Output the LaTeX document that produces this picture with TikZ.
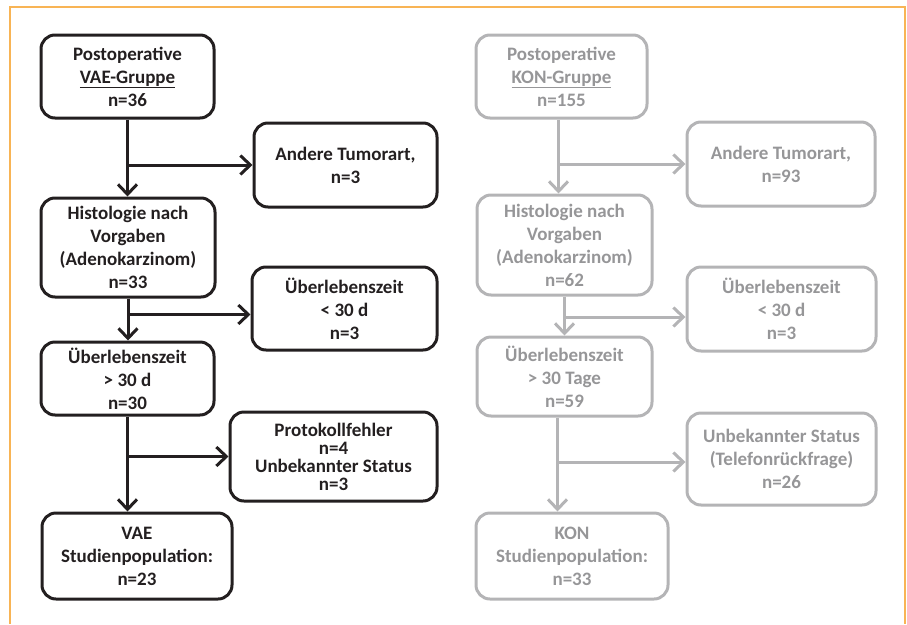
\documentclass[tikz,border=0pt]{standalone}
\usepackage{fontspec}
\setmainfont{Carlito}
\usetikzlibrary{arrows.meta}
\definecolor{vaeblack}{RGB}{35,31,32}
\definecolor{kongray}{RGB}{180,180,182}
\definecolor{kontext}{RGB}{150,150,152}
\definecolor{rahmenorange}{RGB}{248,180,85}

\tikzset{
  flowbox/.style={draw, rounded corners=14pt, line width=3pt, align=center, inner sep=0pt,
    font=\bfseries\fontsize{19}{23}\selectfont},
  vaebox/.style={flowbox, draw=vaeblack, text=vaeblack},
  konbox/.style={flowbox, draw=kongray, text=kontext},
  vaepfeil/.style={vaeblack, line width=3pt, -{Straight Barb[length=10pt,width=19pt]}},
  konpfeil/.style={kongray, line width=3pt, -{Straight Barb[length=10pt,width=19pt]}}
}

\begin{document}
\begin{tikzpicture}[x=1pt, y=-1pt]
    \useasboundingbox (0,0) rectangle (907,624);

    % Rahmen
    \draw[rahmenorange, line width=1.5pt] (10,624) -- (10,7) -- (905,7) -- (905,624);

    % VAE-Gruppe
    \node[vaebox, minimum width=173pt, minimum height=83pt] (vae1) at (127.5,76.5)
        {Postoperative\\\underline{VAE-Gruppe}\\n=36};
    \node[vaebox, minimum width=183pt, minimum height=84pt] (vaeAndere) at (345.5,165)
        {Andere Tumorart,\\n=3};
    \node[vaebox, minimum width=174pt, minimum height=99pt] (vae2) at (128,247.5)
        {Histologie nach\\Vorgaben\\(Adenokarzinom)\\n=33};
    \node[vaebox, minimum width=185pt, minimum height=83pt] (vaeTod) at (344.5,308.5)
        {Überlebenszeit\\< 30 d\\n=3};
    \node[vaebox, minimum width=173pt, minimum height=73pt] (vae3) at (127.5,378.5)
        {Überlebenszeit\\> 30 d\\n=30};
    \node[vaebox, minimum width=207pt, minimum height=89pt,
        font=\bfseries\fontsize{19}{18}\selectfont] (vaeProt) at (333.5,456.5)
        {Protokollfehler\\n=4\\Unbekannter Status\\n=3};
    \node[vaebox, minimum width=190pt, minimum height=86pt] (vae4) at (137,556)
        {VAE\\Studienpopulation:\\n=23};

    \draw[vaepfeil] (vae1.south) -- (vae1.south |- vae2.north);
    \draw[vaepfeil] (vae1.south |- vaeAndere.west) -- (vaeAndere.west);
    \draw[vaepfeil] (vae2.south) -- (vae2.south |- vae3.north);
    \draw[vaepfeil] ([yshift=-6pt]vae2.south |- vaeTod.west) -- ([yshift=-6pt]vaeTod.west);
    \draw[vaepfeil] (vae3.south) -- (vae3.south |- vae4.north);
    \draw[vaepfeil] (vae3.south |- vaeProt.west) -- (vaeProt.west);

    % KON-Gruppe
    \node[konbox, minimum width=171pt, minimum height=83pt] (kon1) at (561.5,76.5)
        {Postoperative\\\underline{KON-Gruppe}\\n=155};
    \node[konbox, minimum width=188pt, minimum height=84pt] (konAndere) at (781,164)
        {Andere Tumorart,\\n=93};
    \node[konbox, minimum width=175pt, minimum height=100pt] (kon2) at (564.5,245)
        {Histologie nach\\Vorgaben\\(Adenokarzinom)\\n=62};
    \node[konbox, minimum width=189pt, minimum height=84pt] (konTod) at (781.5,309)
        {Überlebenszeit\\< 30 d\\n=3};
    \node[konbox, minimum width=175pt, minimum height=79pt] (kon3) at (564.5,376.5)
        {Überlebenszeit\\> 30 Tage\\n=59};
    \node[konbox, minimum width=189pt, minimum height=92pt] (konUnb) at (781.5,459)
        {Unbekannter Status\\(Telefonrückfrage)\\n=26};
    \node[konbox, minimum width=192pt, minimum height=86pt] (kon4) at (572,556)
        {KON\\Studienpopulation:\\n=33};

    \draw[konpfeil] ([xshift=-3pt]kon1.south) -- ([xshift=-3pt]kon1.south |- kon2.north);
    \draw[konpfeil] ([xshift=-3pt]kon1.south |- konAndere.west) -- (konAndere.west);
    \draw[konpfeil] (kon2.south) -- (kon2.south |- kon3.north);
    \draw[konpfeil] ([yshift=-8pt]kon2.south |- konTod.west) -- ([yshift=-8pt]konTod.west);
    \draw[konpfeil] ([xshift=-7pt]kon3.south) -- ([xshift=-7pt]kon3.south |- kon4.north);
    \draw[konpfeil] ([xshift=-7pt,yshift=-3pt]kon3.south |- konUnb.west) -- ([yshift=-3pt]konUnb.west);
\end{tikzpicture}
\end{document}
